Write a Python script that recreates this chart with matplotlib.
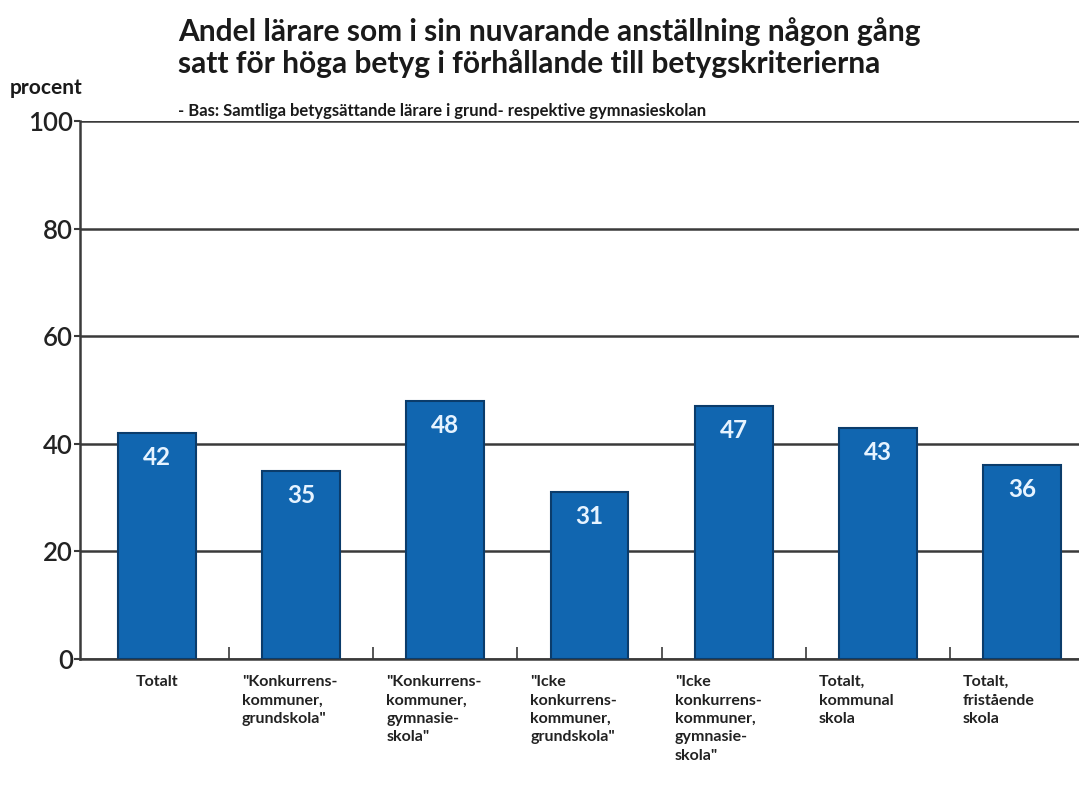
import numpy as np
import matplotlib
matplotlib.use("Agg")
from matplotlib import pyplot as plt
from matplotlib.transforms import blended_transform_factory

# data
categories = [
    "Totalt",
    "\"Konkurrens-\nkommuner,\ngrundskola\"",
    "\"Konkurrens-\nkommuner,\ngymnasie-\nskola\"",
    "\"Icke\nkonkurrens-\nkommuner,\ngrundskola\"",
    "\"Icke\nkonkurrens-\nkommuner,\ngymnasie-\nskola\"",
    "Totalt,\nkommunal\nskola",
    "Totalt,\nfristående\nskola",
]
values = [42, 35, 48, 31, 47, 43, 36]
yticks = [0, 20, 40, 60, 80, 100]

plt.rcParams['font.family'] = ['Lato', 'DejaVu Sans']

fig = plt.figure(figsize=(10.79, 7.86), dpi=100)
ax = fig.add_axes([0.0741, 0.1616, 0.926, 0.6845])

x = np.arange(len(values))
ax.bar(x, values, width=0.54, color='#1166b0', edgecolor='#0b3c6b', linewidth=1.5, zorder=3)

for xi, v in zip(x, values):
    ax.text(xi, v - 2.4, str(v), ha='center', va='top', color='#e6f3ff',
            fontsize=17.5, fontweight='bold', zorder=4)

ax.set_ylim(0, 100)
ax.set_xlim(-0.534, 6.395)
ax.set_yticks(yticks)
ax.set_yticklabels([str(t) for t in yticks], fontsize=18.5, color='#222222', fontweight='semibold')
ax.yaxis.grid(True, color='#3a3a3a', linewidth=1.8, zorder=1)
ax.tick_params(axis='y', length=4, width=1.5, color='#3a3a3a', pad=1)

ax.set_xticks(x[:-1] + 0.5)
ax.set_xticklabels([])
ax.tick_params(axis='x', direction='in', length=9, width=1.2, color='#3a3a3a')

for s in ['top', 'right']:
    ax.spines[s].set_visible(False)
ax.spines['left'].set_color('#3a3a3a')
ax.spines['left'].set_linewidth(1.8)
ax.spines['bottom'].set_color('#3a3a3a')
ax.spines['bottom'].set_linewidth(1.8)

# category labels under the bars
trans = blended_transform_factory(ax.transData, ax.transAxes)
for xi, lab in zip(x, categories):
    if xi == 0:
        ax.text(xi, -0.03, lab, transform=trans, ha='center', va='top',
                fontsize=11.5, fontweight='bold', color='#222222', linespacing=1.4)
    else:
        ax.text(xi - 0.41, -0.03, lab, transform=trans, ha='left', va='top',
                fontsize=11.5, fontweight='bold', color='#222222', linespacing=1.4)

fig.text(0.165, 0.978, "Andel lärare som i sin nuvarande anställning någon gång\n"
         "satt för höga betyg i förhållande till betygskriterierna",
         ha='left', va='top', fontsize=21.5, fontweight='bold', color='#1a1a1a', linespacing=1.12)
fig.text(0.009, 0.888, "procent", ha='left', va='center', fontsize=15, fontweight='bold', color='#1a1a1a')
fig.text(0.165, 0.859, "- Bas: Samtliga betygsättande lärare i grund- respektive gymnasieskolan",
         ha='left', va='center', fontsize=12, fontweight='bold', color='#1a1a1a')

plt.savefig('out.png', dpi=100)
